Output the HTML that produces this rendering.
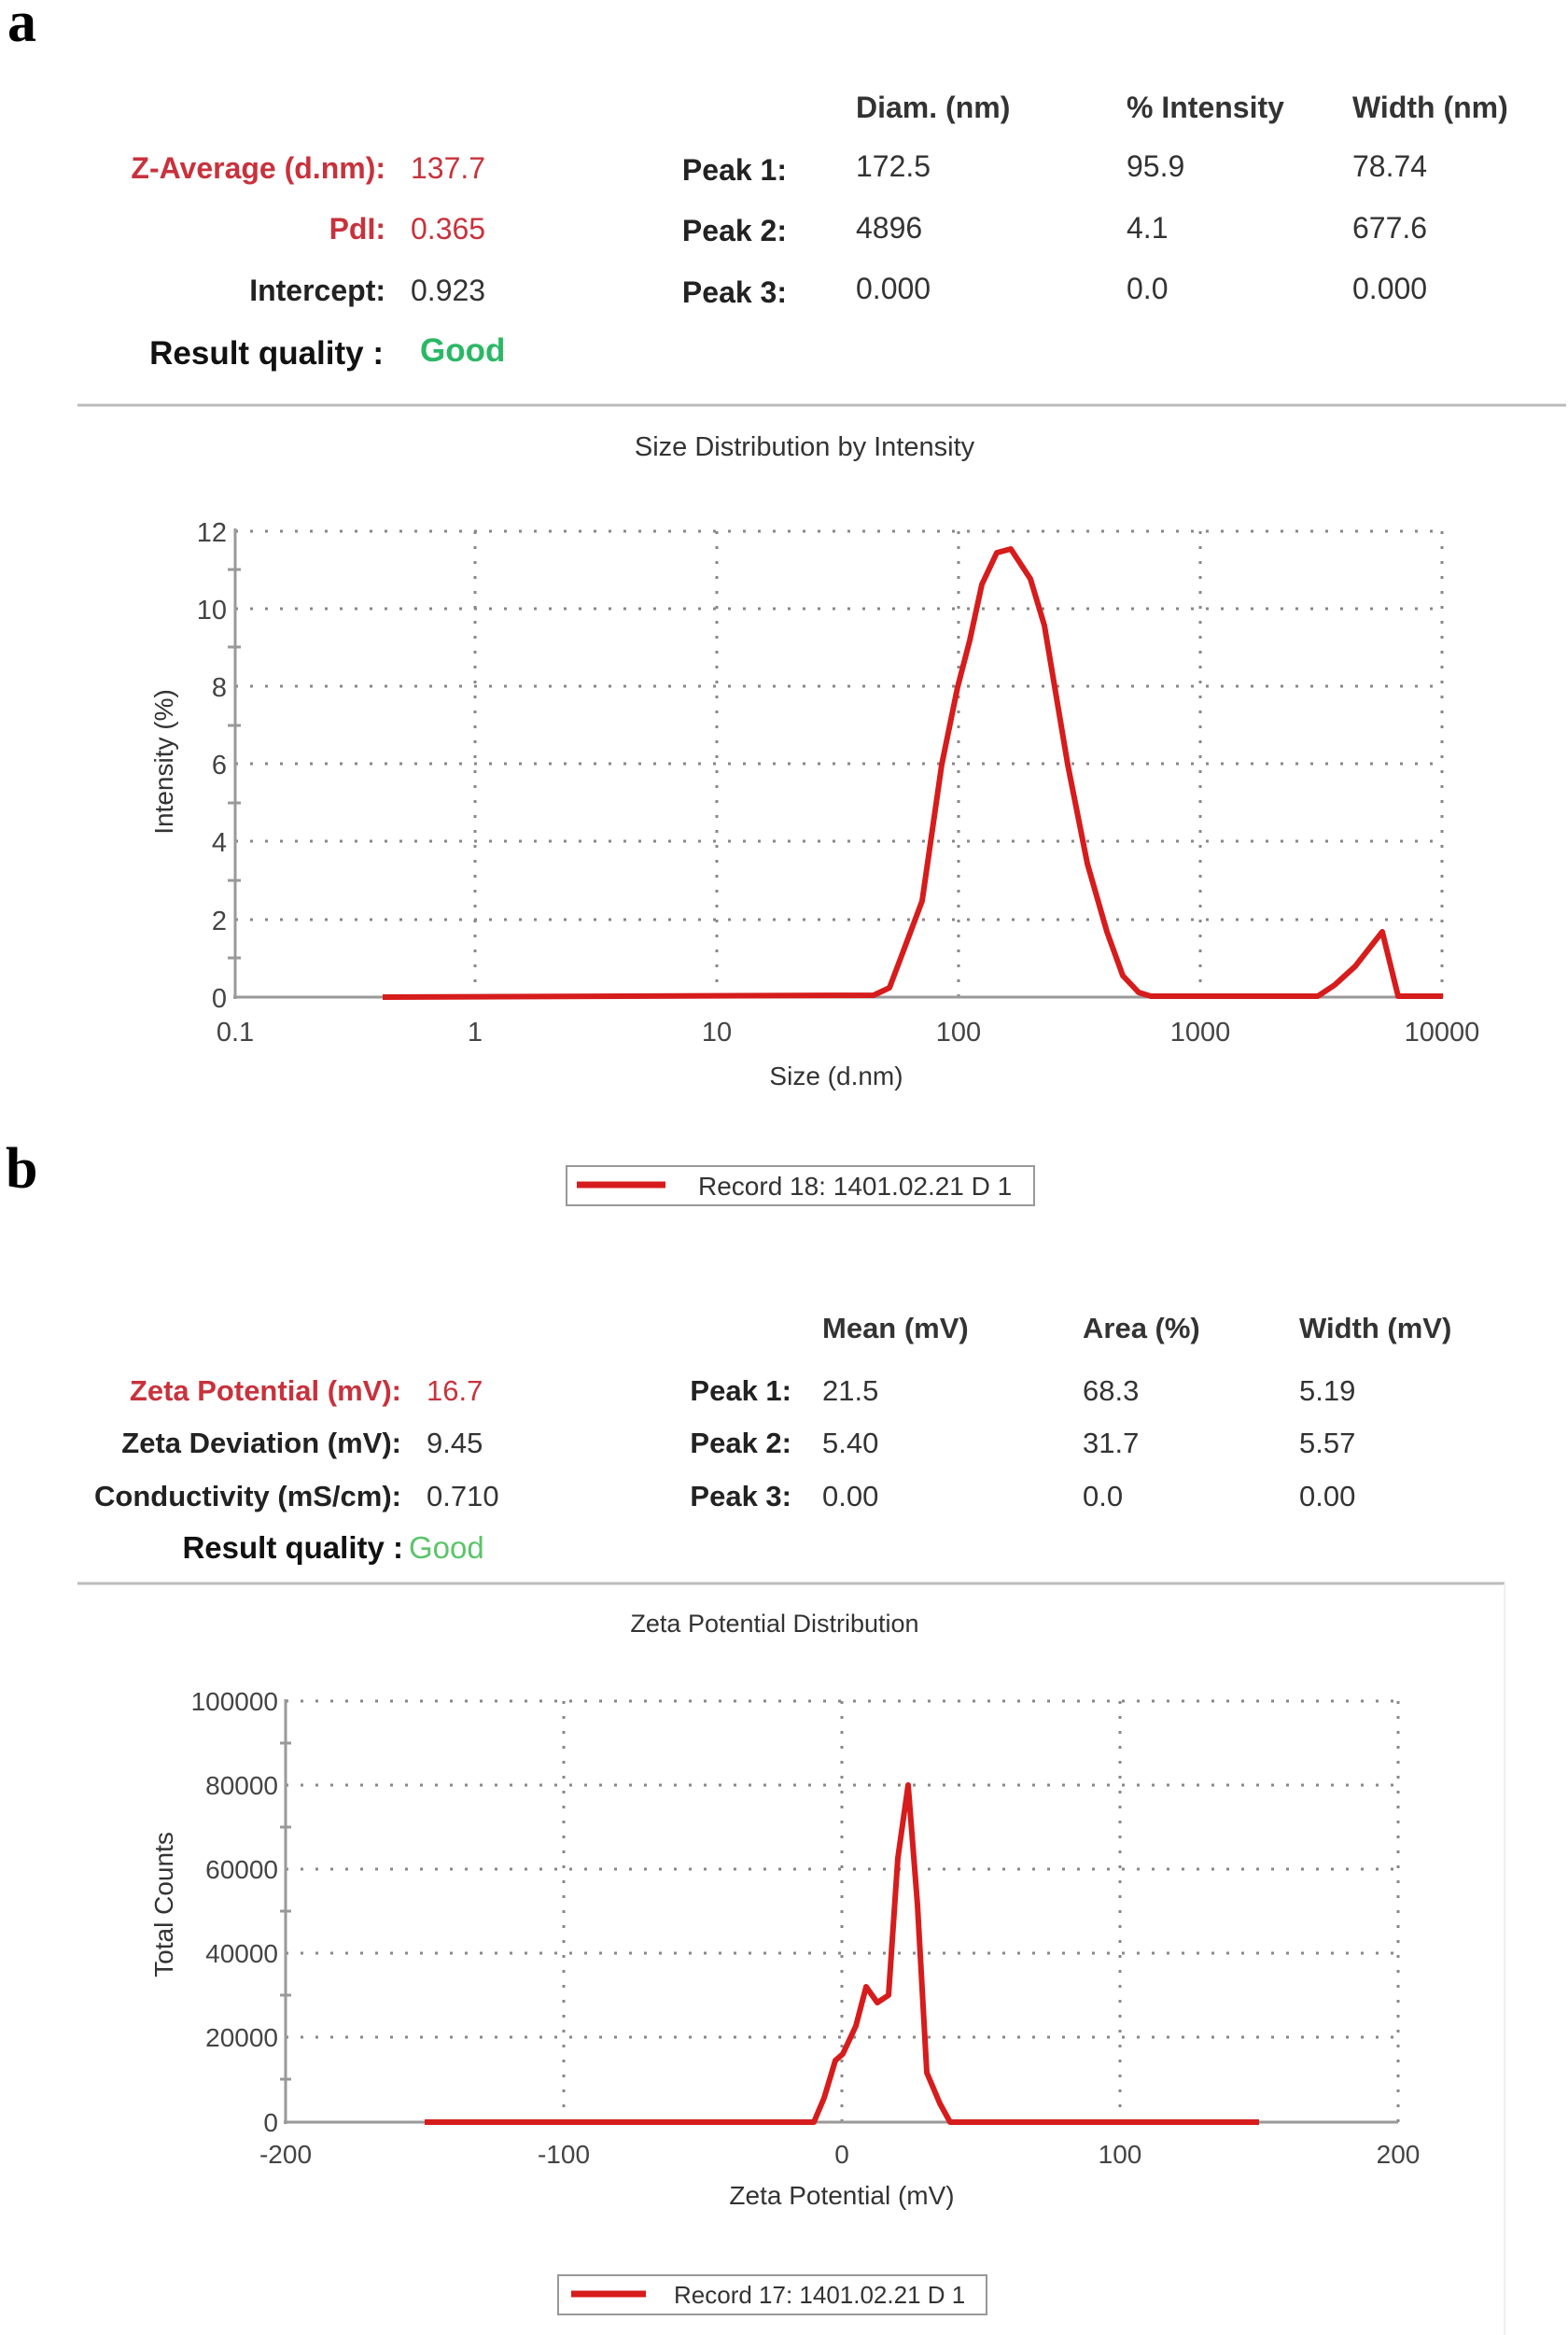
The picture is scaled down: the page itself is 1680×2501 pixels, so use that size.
<!DOCTYPE html>
<html><head><meta charset="utf-8"><style>
html,body{margin:0;padding:0;background:#fff}
svg{display:block}
text{font-family:"Liberation Sans",Arial,sans-serif}
</style></head><body>
<svg width="1680" height="2501" viewBox="0 0 1680 2501" xmlns="http://www.w3.org/2000/svg">
<text x="8" y="44" font-weight="bold" font-size="62" fill="#000" style="font-family:'Liberation Serif',serif">a</text>
<text x="6" y="1272" font-weight="bold" font-size="62" fill="#000" style="font-family:'Liberation Serif',serif">b</text>

<g font-size="32" fill="#333">
<text x="917" y="126" font-weight="bold">Diam. (nm)</text>
<text x="1207" y="126" font-weight="bold">% Intensity</text>
<text x="1449" y="126" font-weight="bold">Width (nm)</text>
<text x="413" y="191" text-anchor="end" font-weight="bold" fill="#c8323c">Z-Average (d.nm):</text>
<text x="440" y="191" fill="#c8323c">137.7</text>
<text x="413" y="256" text-anchor="end" font-weight="bold" fill="#c8323c">PdI:</text>
<text x="440" y="256" fill="#c8323c">0.365</text>
<text x="413" y="322" text-anchor="end" font-weight="bold" fill="#222">Intercept:</text>
<text x="440" y="322">0.923</text>
<text x="411" y="390" text-anchor="end" font-weight="bold" fill="#111" font-size="35">Result quality :</text>
<text x="450" y="387" font-weight="bold" fill="#2bb866" font-size="35">Good</text>
<text x="843" y="193" text-anchor="end" font-weight="bold" fill="#222">Peak 1:</text>
<text x="843" y="258" text-anchor="end" font-weight="bold" fill="#222">Peak 2:</text>
<text x="843" y="324" text-anchor="end" font-weight="bold" fill="#222">Peak 3:</text>
<text x="917" y="189">172.5</text><text x="1207" y="189">95.9</text><text x="1449" y="189">78.74</text>
<text x="917" y="255">4896</text><text x="1207" y="255">4.1</text><text x="1449" y="255">677.6</text>
<text x="917" y="320">0.000</text><text x="1207" y="320">0.0</text><text x="1449" y="320">0.000</text>
</g>
<line x1="83" y1="434" x2="1678" y2="434" stroke="#bbb" stroke-width="3"/>
<text x="862" y="488" text-anchor="middle" font-size="29" fill="#333">Size Distribution by Intensity</text>

<g stroke="#888" stroke-width="3" stroke-dasharray="3 13" fill="none">
<line x1="252" y1="569" x2="1546" y2="569"/>
<line x1="252" y1="652" x2="1546" y2="652"/>
<line x1="252" y1="735" x2="1546" y2="735"/>
<line x1="252" y1="818" x2="1546" y2="818"/>
<line x1="252" y1="901" x2="1546" y2="901"/>
<line x1="252" y1="985" x2="1546" y2="985"/>
<line x1="509" y1="569" x2="509" y2="1068"/>
<line x1="768" y1="569" x2="768" y2="1068"/>
<line x1="1027" y1="569" x2="1027" y2="1068"/>
<line x1="1286" y1="569" x2="1286" y2="1068"/>
<line x1="1545" y1="569" x2="1545" y2="1068"/>
</g>
<g stroke="#999" stroke-width="3">
<line x1="252" y1="566" x2="252" y2="1070"/>
<line x1="250" y1="1068" x2="1546" y2="1068"/>
<line x1="244" y1="610" x2="258" y2="610"/><line x1="244" y1="693" x2="258" y2="693"/>
<line x1="244" y1="777" x2="258" y2="777"/><line x1="244" y1="860" x2="258" y2="860"/>
<line x1="244" y1="943" x2="258" y2="943"/><line x1="244" y1="1026" x2="258" y2="1026"/>
</g>
<g font-size="29" fill="#444" text-anchor="end">
<text x="243" y="580">12</text><text x="243" y="663">10</text><text x="243" y="746">8</text>
<text x="243" y="829">6</text><text x="243" y="912">4</text><text x="243" y="996">2</text><text x="243" y="1079">0</text>
</g>
<g font-size="29" fill="#444" text-anchor="middle">
<text x="252" y="1115">0.1</text><text x="509" y="1115">1</text><text x="768" y="1115">10</text>
<text x="1027" y="1115">100</text><text x="1286" y="1115">1000</text><text x="1545" y="1115">10000</text>
</g>
<text x="896" y="1162" text-anchor="middle" font-size="28" fill="#333">Size (d.nm)</text>
<text transform="translate(185,816) rotate(-90)" text-anchor="middle" font-size="28" fill="#333">Intensity (%)</text>
<polyline fill="none" stroke="#d61c1c" stroke-width="6" stroke-linejoin="round" points="410,1068 936,1066 953,1058 967,1021 988,965 1009,819 1026,736 1039,686 1052,626 1068,592 1083,588 1104,620 1119,670 1144,819 1165,925 1186,998 1203,1045 1220,1063 1233,1067 1412,1067 1430,1055 1452,1035 1481,998 1498,1067 1546,1067"/>

<rect x="607" y="1249" width="501" height="42" fill="#fff" stroke="#999" stroke-width="2"/>
<line x1="618" y1="1269" x2="713" y2="1269" stroke="#d61c1c" stroke-width="7"/>
<text x="748" y="1280" font-size="28" fill="#333">Record 18: 1401.02.21 D 1</text>

<g font-size="31" fill="#333">
<text x="881" y="1433" font-weight="bold">Mean (mV)</text>
<text x="1160" y="1433" font-weight="bold">Area (%)</text>
<text x="1392" y="1433" font-weight="bold">Width (mV)</text>
<text x="430" y="1500" text-anchor="end" font-weight="bold" fill="#c8323c">Zeta Potential (mV):</text>
<text x="457" y="1500" fill="#c8323c">16.7</text>
<text x="430" y="1556" text-anchor="end" font-weight="bold" fill="#222">Zeta Deviation (mV):</text>
<text x="457" y="1556">9.45</text>
<text x="430" y="1613" text-anchor="end" font-weight="bold" fill="#222">Conductivity (mS/cm):</text>
<text x="457" y="1613">0.710</text>
<text x="432" y="1669" text-anchor="end" font-weight="bold" fill="#111" font-size="33">Result quality :</text>
<text x="438" y="1669" fill="#5cc46a" font-size="33">Good</text>
<text x="848" y="1500" text-anchor="end" font-weight="bold" fill="#222">Peak 1:</text>
<text x="848" y="1556" text-anchor="end" font-weight="bold" fill="#222">Peak 2:</text>
<text x="848" y="1613" text-anchor="end" font-weight="bold" fill="#222">Peak 3:</text>
<text x="881" y="1500">21.5</text><text x="1160" y="1500">68.3</text><text x="1392" y="1500">5.19</text>
<text x="881" y="1556">5.40</text><text x="1160" y="1556">31.7</text><text x="1392" y="1556">5.57</text>
<text x="881" y="1613">0.00</text><text x="1160" y="1613">0.0</text><text x="1392" y="1613">0.00</text>
</g>
<line x1="83" y1="1696" x2="1612" y2="1696" stroke="#bbb" stroke-width="3"/>
<line x1="1612" y1="1696" x2="1612" y2="2501" stroke="#eee" stroke-width="2"/>
<text x="830" y="1748" text-anchor="middle" font-size="27" fill="#333">Zeta Potential Distribution</text>

<g stroke="#888" stroke-width="3" stroke-dasharray="3 13" fill="none">
<line x1="306" y1="1822" x2="1498" y2="1822"/>
<line x1="306" y1="1912" x2="1498" y2="1912"/>
<line x1="306" y1="2002" x2="1498" y2="2002"/>
<line x1="306" y1="2092" x2="1498" y2="2092"/>
<line x1="306" y1="2182" x2="1498" y2="2182"/>
<line x1="604" y1="1822" x2="604" y2="2273"/>
<line x1="902" y1="1822" x2="902" y2="2273"/>
<line x1="1200" y1="1822" x2="1200" y2="2273"/>
<line x1="1498" y1="1822" x2="1498" y2="2273"/>
</g>
<g stroke="#999" stroke-width="3">
<line x1="306" y1="1820" x2="306" y2="2275"/>
<line x1="304" y1="2273" x2="1498" y2="2273"/>
<line x1="300" y1="1867" x2="312" y2="1867"/><line x1="300" y1="1957" x2="312" y2="1957"/>
<line x1="300" y1="2047" x2="312" y2="2047"/><line x1="300" y1="2137" x2="312" y2="2137"/>
<line x1="300" y1="2227" x2="312" y2="2227"/>
</g>
<g font-size="28" fill="#444" text-anchor="end">
<text x="298" y="1832">100000</text><text x="298" y="1922">80000</text><text x="298" y="2012">60000</text>
<text x="298" y="2102">40000</text><text x="298" y="2192">20000</text><text x="298" y="2283">0</text>
</g>
<g font-size="28" fill="#444" text-anchor="middle">
<text x="306" y="2317">-200</text><text x="604" y="2317">-100</text><text x="902" y="2317">0</text>
<text x="1200" y="2317">100</text><text x="1498" y="2317">200</text>
</g>
<text x="902" y="2361" text-anchor="middle" font-size="28" fill="#333">Zeta Potential (mV)</text>
<text transform="translate(185,2040) rotate(-90)" text-anchor="middle" font-size="28" fill="#333">Total Counts</text>
<polyline fill="none" stroke="#d61c1c" stroke-width="6" stroke-linejoin="round" points="455,2273 872,2273 883,2247 895,2207 903,2200 917,2170 928,2128 940,2145 952,2137 962,1990 973,1912 983,2040 993,2220 1007,2253 1018,2273 1349,2273"/>

<rect x="598" y="2437" width="459" height="42" fill="#fff" stroke="#999" stroke-width="2"/>
<line x1="612" y1="2457" x2="692" y2="2457" stroke="#d61c1c" stroke-width="7"/>
<text x="722" y="2467" font-size="26" fill="#333">Record 17: 1401.02.21 D 1</text>
</svg>
</body></html>
